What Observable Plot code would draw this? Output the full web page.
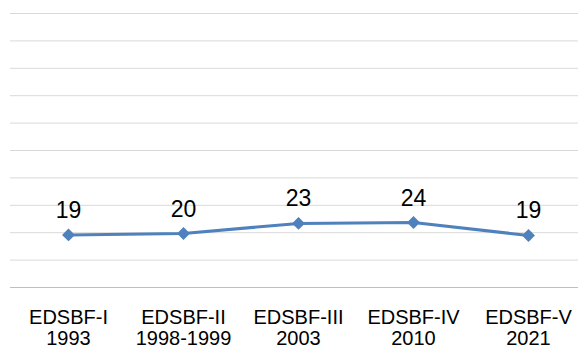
<!DOCTYPE html>
<html><head><meta charset="utf-8">
<script src="https://cdn.jsdelivr.net/npm/d3@7"></script>
<script src="https://cdn.jsdelivr.net/npm/@observablehq/plot@0.6"></script>
<style>body{margin:0;background:#fff}</style>
</head><body><div id="chart"></div>
<script>
const surveys = ["EDSBF-I", "EDSBF-II", "EDSBF-III", "EDSBF-IV", "EDSBF-V"];
const years = ["1993", "1998-1999", "2003", "2010", "2021"];
const values = [19.2, 19.7, 23.4, 23.7, 19.0];
const valueLabels = ["19", "20", "23", "24", "19"];
const yTicks = [0, 10, 20, 30, 40, 50, 60, 70, 80, 90, 100];

const data = surveys.map((s, i) => ({cat: s + "\n" + years[i], value: values[i], label: valueLabels[i]}));
const color = "#4f81bd";

const chart = Plot.plot({
  width: 578, height: 345,
  marginLeft: 10, marginRight: -8, marginTop: 13, marginBottom: 58,
  style: {fontFamily: "'Liberation Sans', Arial, sans-serif", background: "#fff", overflow: "hidden"},
  x: {type: "point", domain: data.map(d => d.cat), padding: 0.5, axis: null, label: null},
  y: {domain: [0, 100], axis: null, label: null},
  marks: [
    Plot.ruleY(yTicks.slice(1), {stroke: "#d9d9d9", strokeWidth: 1}),
    Plot.ruleY([0], {stroke: "#bfbfbf", strokeWidth: 1}),
    Plot.text(data, {x: "cat", text: "cat", frameAnchor: "bottom", lineAnchor: "top", dy: 21.5, fontSize: 20, lineHeight: 1.05, fill: "#000"}),
    Plot.line(data, {x: "cat", y: "value", stroke: color, strokeWidth: 3}),
    Plot.dot(data, {x: "cat", y: "value", symbol: "diamond2", r: 5.8, fill: color, stroke: "none"}),
    Plot.text(data, {x: "cat", y: "value", text: "label", dy: -17, lineAnchor: "bottom", fontSize: 23, fill: "#000"})
  ]
});
document.getElementById("chart").append(chart);
</script>
</body></html>
